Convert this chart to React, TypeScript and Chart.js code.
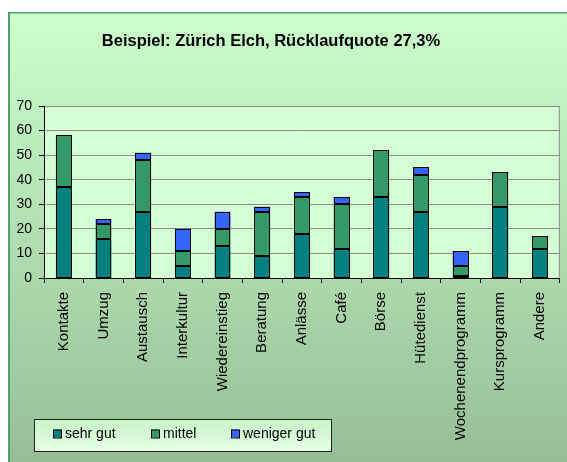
import React, { useEffect, useRef } from "react";
import { Chart, registerables } from "chart.js";

Chart.register(...registerables);

const title = "Beispiel: Zürich Elch, Rücklaufquote 27,3%";
const categories = [
  "Kontakte", "Umzug", "Austausch", "Interkultur", "Wiedereinstieg", "Beratung",
  "Anlässe", "Café", "Börse", "Hütedienst", "Wochenendprogramm", "Kursprogramm", "Andere",
];
const seriesNames = ["sehr gut", "mittel", "weniger gut"];
const sehrGut = [37, 16, 27, 5, 13, 9, 18, 12, 33, 27, 1, 29, 12];
const mittel = [21, 6, 21, 6, 7, 18, 15, 18, 19, 15, 4, 14, 5];
const wenigerGut = [0, 2, 3, 9, 7, 2, 2, 3, 0, 3, 6, 0, 0];
const yTicks = [0, 10, 20, 30, 40, 50, 60, 70];

const colors = ["#008080", "#339966", "#3366FF"];
const FONT = "'Liberation Sans', Arial, sans-serif";

const W = 559;
const H = 450;

const framePlugin = {
  id: "framePlugin",
  beforeDraw(chart: any) {
    const { ctx, chartArea } = chart;
    ctx.save();
    const g = ctx.createLinearGradient(0, 0, 0, H);
    g.addColorStop(0, "#CCFFCC");
    g.addColorStop(1, "#96BE96");
    ctx.fillStyle = g;
    ctx.fillRect(0, 0, W, H);
    ctx.fillStyle = "#4FA06C";
    ctx.fillRect(0, 0, 2, H);
    ctx.fillRect(0, 0, W, 1.5);
    ctx.fillStyle = "#D4FFD4";
    ctx.fillRect(chartArea.left, chartArea.top, chartArea.right - chartArea.left, chartArea.bottom - chartArea.top);
    ctx.restore();
  },
  beforeDatasetsDraw(chart: any) {
    const { ctx, chartArea } = chart;
    ctx.save();
    ctx.strokeStyle = "#8a8a8a";
    ctx.lineWidth = 1;
    ctx.beginPath();
    ctx.moveTo(chartArea.right - 0.5, chartArea.top);
    ctx.lineTo(chartArea.right - 0.5, chartArea.bottom);
    ctx.stroke();
    ctx.restore();
  },
  afterDatasetsDraw(chart: any) {
    // crisp black outlines around each bar segment
    const { ctx } = chart;
    ctx.save();
    ctx.strokeStyle = "#000";
    ctx.lineWidth = 1;
    chart.data.datasets.forEach((ds: any, i: number) => {
      const meta = chart.getDatasetMeta(i);
      meta.data.forEach((bar: any, j: number) => {
        if (!ds.data[j]) return;
        const { x, y, base, width } = bar.getProps(["x", "y", "base", "width"], true);
        const l = Math.round(x - width / 2) + 0.5;
        const r = Math.round(x + width / 2) - 0.5;
        const t = Math.round(Math.min(y, base)) + 0.5;
        const b = Math.round(Math.max(y, base)) - 0.5;
        ctx.strokeRect(l, t, r - l, b - t);
      });
    });
    ctx.restore();
  },
  afterDraw(chart: any) {
    const { ctx } = chart;
    ctx.save();
    ctx.fillStyle = "#000";
    ctx.font = `bold 16.5px ${FONT}`;
    ctx.textAlign = "center";
    ctx.textBaseline = "alphabetic";
    ctx.fillText(title, 263, 34);
    const lx = 26, ly = 407, lw = 297, lh = 32;
    const lg = ctx.createLinearGradient(0, ly, 0, ly + lh);
    lg.addColorStop(0, "#C8F5C8");
    lg.addColorStop(1, "#E6FFE6");
    ctx.fillStyle = lg;
    ctx.fillRect(lx, ly, lw, lh);
    ctx.strokeStyle = "#222";
    ctx.lineWidth = 1;
    ctx.strokeRect(lx + 0.5, ly + 0.5, lw, lh);
    const itemX = [45, 143, 223];
    ctx.font = `14px ${FONT}`;
    ctx.textAlign = "left";
    ctx.textBaseline = "middle";
    chart.data.datasets.forEach((ds: any, i: number) => {
      const x = itemX[i];
      const cy = 421.5;
      ctx.fillStyle = ds.backgroundColor;
      ctx.fillRect(x, cy - 4, 8, 8);
      ctx.strokeStyle = "#000";
      ctx.strokeRect(x + 0.5, cy - 3.5, 8, 8);
      ctx.fillStyle = "#000";
      ctx.fillText(ds.label, x + 12, cy + 1);
    });
    ctx.restore();
  },
};

export default function App() {
  const ref = useRef<HTMLCanvasElement | null>(null);
  useEffect(() => {
    if (!ref.current) return;
    const seriesData = [sehrGut, mittel, wenigerGut];
    const chart = new Chart(ref.current, {
      type: "bar",
      data: {
        labels: categories,
        datasets: seriesNames.map((name, i) => ({
          label: name,
          data: seriesData[i],
          backgroundColor: colors[i],
          borderWidth: 0,
          barPercentage: 0.4,
          categoryPercentage: 1,
        })),
      },
      options: {
        responsive: false,
        animation: false,
        devicePixelRatio: 1,
        layout: { padding: { left: 0, right: 1, top: 94, bottom: 0 } },
        plugins: {
          legend: { display: false },
          title: { display: false },
          tooltip: { enabled: false },
        },
        scales: {
          x: {
            stacked: true,
            grid: {
              offset: true,
              drawOnChartArea: false,
              drawTicks: true,
              tickLength: 5,
              tickColor: "#000",
            },
            border: { color: "#000", width: 1 },
            ticks: {
              color: "#000",
              font: { family: FONT, size: 15 },
              minRotation: 90,
              maxRotation: 90,
              autoSkip: false,
              padding: 9,
            },
            afterFit: (s: any) => {
              s.height = 184;
            },
          },
          y: {
            stacked: true,
            min: 0,
            max: 70,
            afterBuildTicks: (s: any) => {
              s.ticks = yTicks.map((v) => ({ value: v }));
            },
            grid: {
              color: "#8a8a8a",
              tickColor: "#000",
              tickLength: 5,
            },
            border: { color: "#000", width: 1 },
            ticks: {
              color: "#000",
              font: { family: FONT, size: 14 },
              padding: 7,
            },
            afterFit: (s: any) => {
              s.width = 36;
            },
          },
        },
      },
      plugins: [framePlugin],
    } as any);
    return () => chart.destroy();
  }, []);
  return (
    <div style={{ position: "fixed", left: 8, top: 12, width: W, height: H }}>
      <canvas ref={ref} width={W} height={H} style={{ display: "block", width: W, height: H }} />
    </div>
  );
}
